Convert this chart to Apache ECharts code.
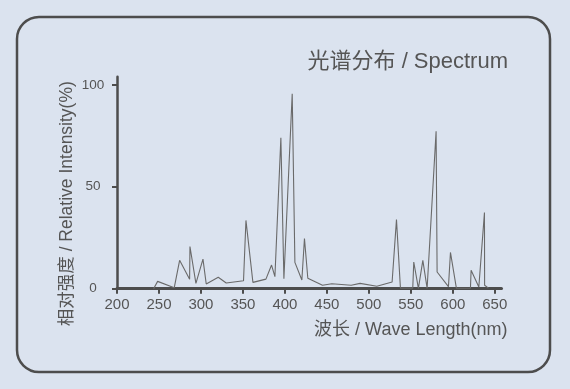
<!DOCTYPE html>
<html>
<head>
<meta charset="utf-8">
<script src="https://cdn.jsdelivr.net/npm/echarts@6/dist/echarts.min.js"></script>
<style>
html,body{margin:0;padding:0;background:#dbe3ef;}
#chart{width:570px;height:389px;}
</style>
</head>
<body>
<div id="chart"></div>
<script>
var titleText = '光谱分布 / Spectrum';
var xAxisName = '波长 / Wave Length(nm)';
var yAxisName = '相对强度 / Relative Intensity(%)';
var xTicks = [200, 250, 300, 350, 400, 450, 500, 550, 600, 650];
var yTicks = [0, 50, 100];
var wavelengths = [243.6, 248.4, 268.2, 274.6, 286.5, 286.9, 294, 302.4, 306.3, 320.6, 330.1, 350.7, 353.6, 361.9, 377.4, 384.1, 388.1, 395.2, 398.8, 408.7, 411.9, 420.2, 423.3, 427.3, 444.8, 455.9, 478.9, 480.9, 489.6, 509.5, 527.7, 532.9, 537.6, 552.3, 553.5, 559, 564.3, 569.4, 580.1, 581.3, 594.8, 597.2, 604.3, 621, 621.8, 631, 637.7, 637.9, 642.5];
var intensities = [0, 3.6, 0.5, 13.9, 4.6, 20.7, 2.6, 14.5, 2.3, 5.6, 2.8, 3.9, 33.5, 3.1, 4.7, 11.6, 5.9, 74, 4.9, 95.6, 12.9, 4.3, 24.6, 5.1, 1.7, 2.4, 1.7, 2.6, 2.6, 1.2, 3.3, 33.9, 0.3, 0.3, 13.1, 0.2, 13.9, 0.2, 77.2, 8.2, 1, 17.8, 0.2, 0.2, 9, 0.8, 37.4, 1.7, 0.3];

var seriesData = wavelengths.map(function (w, i) { return [w, intensities[i]]; });

var chart = echarts.init(document.getElementById('chart'), null, {renderer: 'canvas'});
var textColor = '#555555';
var axisColor = '#4d4d4d';
var font = '"Liberation Sans", Arial, "Noto Sans CJK SC", sans-serif';
chart.setOption({
  backgroundColor: '#dbe3ef',
  animation: false,
  textStyle: {fontFamily: font},
  title: {
    text: titleText,
    right: 62,
    top: 51,
    padding: 0,
    textStyle: {fontSize: 22, fontWeight: 'normal', color: textColor, fontFamily: font}
  },
  graphic: [{
    type: 'rect',
    shape: {x: 17, y: 17, width: 533, height: 355, r: 22},
    style: {fill: 'none', stroke: axisColor, lineWidth: 2.5},
    silent: true
  }],
  grid: {left: 117, right: 68.5, top: 76.7, bottom: 100.3, containLabel: false},
  xAxis: {
    type: 'value',
    min: 200,
    max: 658,
    name: xAxisName,
    nameLocation: 'end',
    nameGap: 6,
    nameMoveOverlap: false,
    nameTextStyle: {
      fontSize: 18, color: textColor, fontFamily: font,
      align: 'right', verticalAlign: 'top', padding: [32, 0, 0, 0]
    },
    splitLine: {show: false},
    axisLine: {show: true, lineStyle: {color: axisColor, width: 3}},
    axisTick: {show: true, length: 5, customValues: xTicks, lineStyle: {color: axisColor, width: 2}},
    axisLabel: {customValues: xTicks, fontSize: 15, color: textColor, margin: 9, fontFamily: font}
  },
  yAxis: {
    type: 'value',
    min: 0,
    max: 104,
    name: yAxisName,
    nameLocation: 'middle',
    nameGap: 41,
    nameRotate: 90,
    nameMoveOverlap: false,
    nameTextStyle: {fontSize: 17.5, color: textColor, fontFamily: font, padding: [0, 42, 0, 0]},
    splitLine: {show: false},
    axisLine: {show: true, lineStyle: {color: axisColor, width: 2.5}},
    axisTick: {show: true, length: 5, customValues: yTicks, lineStyle: {color: axisColor, width: 2}},
    axisLabel: {customValues: yTicks, fontSize: 13.5, color: textColor, margin: 24, align: 'center', fontFamily: font}
  },
  series: [{
    type: 'line',
    data: seriesData,
    symbol: 'none',
    lineStyle: {color: '#6a6a6a', width: 1.1},
    z: 1
  }]
});
</script>
</body>
</html>
